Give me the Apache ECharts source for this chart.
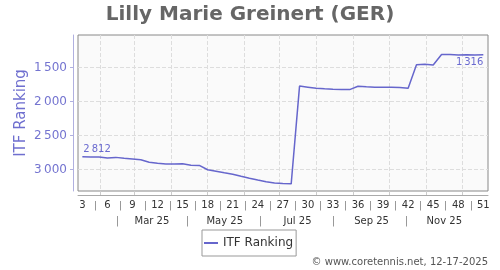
<!DOCTYPE html>
<html>
<head>
<meta charset="utf-8">
<script src="https://cdn.jsdelivr.net/npm/echarts@6/dist/echarts.min.js"></script>
<style>html,body{margin:0;padding:0;background:#fff}#c{width:500px;height:270px}</style>
</head>
<body>
<div id="c"></div>
<script>
// ---- data ----
var weeks = [3,4,5,6,7,8,9,10,11,12,13,14,15,16,17,18,19,20,21,22,23,24,25,26,27,28,29,30,31,32,33,34,35,36,37,38,39,40,41,42,43,44,45,46,47,48,49,50,51];
var ranking = [2812,2815,2818,2830,2822,2835,2845,2858,2893,2910,2921,2920,2916,2938,2940,3004,3025,3048,3070,3100,3128,3155,3180,3197,3205,3211,1775,1790,1805,1815,1822,1824,1826,1777,1785,1790,1792,1793,1796,1806,1462,1452,1466,1310,1312,1318,1315,1317,1316];
var weekTicks = [3,6,9,12,15,18,21,24,27,30,33,36,39,42,45,48,51];
var weekSeparators = [4.5,7.5,10.5,13.5,16.5,19.5,22.5,25.5,28.5,31.5,34.5,37.5,40.5,43.5,46.5,49.5];
var monthStarts = ['2025-02-01','2025-03-01','2025-04-01','2025-05-01','2025-06-01','2025-07-01','2025-08-01','2025-09-01','2025-10-01','2025-11-01','2025-12-01'];
var monthLabels = ['Mar 25','May 25','Jul 25','Sep 25','Nov 25'];
var monthLabelDates = ['2025-03-16','2025-05-16','2025-07-16','2025-09-16','2025-11-16'];
var monthSeparatorDates = ['2025-02-15','2025-04-15','2025-06-15','2025-08-15','2025-10-15'];
var yTicks = [1500,2000,2500,3000];
var seriesName = 'ITF Ranking';
var titleText = 'Lilly Marie Greinert (GER)';
var creditText = '\u00a9 www.coretennis.net, 12-17-2025';

// ---- helpers ----
function weekPos(s) {
  var p = s.split('-');
  var d = (Date.UTC(+p[0], +p[1] - 1, +p[2]) - Date.UTC(+p[0], 0, 1)) / 86400000;
  return 1 + (d - 1.7) / 7;
}
function fmtNum(v) { return String(Math.round(v)).replace(/\B(?=(\d{3})+(?!\d))/g, '\u2009'); }
var monthGridPos = monthStarts.map(weekPos);
var monthLabelPos = monthLabelDates.map(weekPos);
var monthSepPos = monthSeparatorDates.map(weekPos);

var FONT = 'DejaVu Sans';
var XMIN = 2.48, XMAX = 51.56;
var lineColor = '#6666cc';
var labelColor = '#6a6ad0';

var data = weeks.map(function (w, i) {
  var item = { value: [w, ranking[i]] };
  if (i === 0) {
    item.symbol = 'circle'; item.symbolSize = 0.01;
    item.label = { show: true, position: 'top', align: 'left', distance: 2, offset: [1, 0], fontSize: 10, color: labelColor, fontFamily: FONT,
      formatter: function (p) { return fmtNum(p.value[1]); } };
  } else if (i === weeks.length - 1) {
    item.symbol = 'circle'; item.symbolSize = 0.01;
    item.label = { show: true, position: 'bottom', align: 'right', distance: 3, fontSize: 10, color: labelColor, fontFamily: FONT,
      formatter: function (p) { return fmtNum(p.value[1]); } };
  }
  return item;
});

function baseX(extra) {
  var o = {
    type: 'value', gridIndex: 0, position: 'bottom', min: XMIN, max: XMAX,
    axisLine: { show: false }, axisTick: { show: false }, axisLabel: { show: false }, splitLine: { show: false }
  };
  for (var k in extra) o[k] = extra[k];
  return o;
}

var chart = echarts.init(document.getElementById('c'), null, { renderer: 'canvas' });
chart.setOption({
  animation: false,
  backgroundColor: '#ffffff',
  textStyle: { fontFamily: FONT },
  title: {
    text: titleText, left: 'center', top: 0,
    textStyle: { fontFamily: FONT, fontSize: 20, fontWeight: 'bold', color: '#666666' }
  },
  legend: {
    data: [{ name: seriesName, icon: 'rect' }], left: 202, top: 230, orient: 'horizontal',
    padding: [6, 3, 6, 2], itemWidth: 14, itemHeight: 2, itemGap: 5,
    itemStyle: { color: lineColor },
    borderColor: '#999999', borderWidth: 1, backgroundColor: '#ffffff',
    textStyle: { fontFamily: FONT, fontSize: 12, color: '#333333', lineHeight: 14 }
  },
  graphic: [{
    type: 'text', right: 12, top: 257,
    style: { text: creditText, font: '10px "DejaVu Sans"', fill: '#555555' }
  }],
  grid: {
    left: 78, right: 12, top: 35, height: 156, show: true,
    backgroundColor: '#fafafa', borderColor: '#888888', borderWidth: 1,
    containLabel: false, outerBoundsMode: 'none'
  },
  xAxis: [
    baseX({
      axisTick: { show: true, length: 4, customValues: monthGridPos, lineStyle: { color: '#cccccc' } },
      splitLine: { show: true, lineStyle: { type: 'dashed', color: '#dddddd' } }
    }),
    baseX({
      offset: 4,
      axisLine: { show: true, lineStyle: { color: '#aaaaaa', width: 1 } },
      axisLabel: { show: true, customValues: weekTicks, margin: 5, fontSize: 10, color: '#333333', fontFamily: FONT,
        formatter: function (v) { return String(Math.round(v)); } }
    }),
    baseX({
      offset: 10,
      axisTick: { show: true, length: 9.5, customValues: weekSeparators, lineStyle: { color: '#999999' } }
    }),
    baseX({
      offset: 20,
      axisLabel: { show: true, customValues: monthLabelPos, margin: 5, fontSize: 10, color: '#333333', fontFamily: FONT,
        formatter: function (v) {
          var best = 0;
          for (var i = 1; i < monthLabelPos.length; i++) if (Math.abs(monthLabelPos[i] - v) < Math.abs(monthLabelPos[best] - v)) best = i;
          return monthLabels[best];
        } }
    }),
    baseX({
      offset: 25,
      axisTick: { show: true, length: 10.5, customValues: monthSepPos, lineStyle: { color: '#999999' } }
    })
  ],
  yAxis: [{
    type: 'value', inverse: true, min: 1024, max: 3316, position: 'left', offset: 5,
    name: seriesName, nameLocation: 'middle', nameGap: 44, nameMoveOverlap: false,
    nameTextStyle: { fontFamily: FONT, fontSize: 15, color: '#6f6fcf' },
    axisLine: { show: true, lineStyle: { color: '#b0b0e0', width: 1 } },
    axisTick: { show: true, length: 3, customValues: yTicks, lineStyle: { color: '#b0b0e0' } },
    axisLabel: { show: true, customValues: yTicks, margin: 6, fontSize: 12, color: '#7474d0', fontFamily: FONT, formatter: fmtNum },
    splitLine: { show: true, lineStyle: { type: 'dashed', color: '#dddddd' } }
  }],
  series: [{
    name: seriesName, type: 'line', xAxisIndex: 0, yAxisIndex: 0,
    data: data, showSymbol: true, symbol: 'none',
    lineStyle: { color: lineColor, width: 1.5 }, itemStyle: { color: lineColor },
    emphasis: { disabled: true },
    label: { show: false, fontSize: 10, color: labelColor, fontFamily: FONT }
  }]
});
</script>
</body>
</html>
